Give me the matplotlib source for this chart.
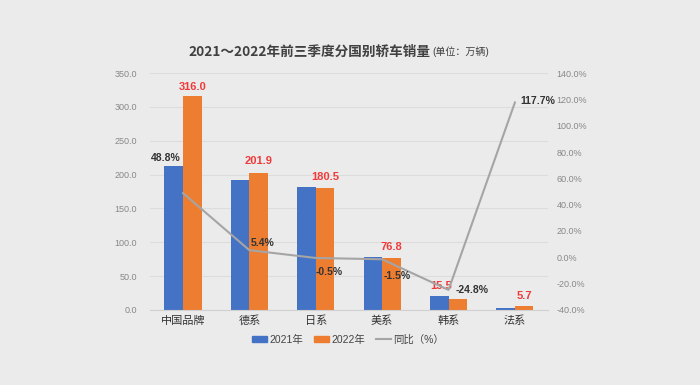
import numpy as np
import matplotlib.pyplot as plt
from matplotlib.lines import Line2D
from matplotlib.patches import Patch

plt.rcParams['font.family'] = ['Liberation Sans', 'Noto Sans CJK SC', 'DejaVu Sans']

# data
groups = ['中国品牌', '德系', '日系', '美系', '韩系', '法系']
sales_2021 = [212.4, 191.6, 181.4, 78.0, 20.6, 2.6]
sales_2022 = [316.0, 201.9, 180.5, 76.8, 15.5, 5.7]
yoy = [48.8, 5.4, -0.5, -1.5, -24.8, 117.7]

blue = '#4472C4'
orange = '#ED7D31'
grey_line = '#A5A5A5'
bg = '#ebebeb'

fig = plt.figure(figsize=(7, 3.85), dpi=100, facecolor=bg)
ax = fig.add_axes([0.214, 0.195, 0.569, 0.615])
ax.set_facecolor(bg)

x = np.arange(len(groups))
w = 0.28
ax.bar(x - w/2, sales_2021, w, color=blue, zorder=2)
ax.bar(x + w/2, sales_2022, w, color=orange, zorder=2)

ax.set_ylim(0, 350)
ax.set_yticks(np.arange(0, 351, 50))
ax.set_yticklabels([f'{v:.1f}' for v in np.arange(0, 351, 50)])
ax.set_xlim(-0.5, len(groups) - 0.5)
ax.set_xticks(x)
ax.set_xticklabels(groups, fontsize=8, color='#333333')
ax.grid(axis='y', color='#dcdcdc', linewidth=0.8, zorder=0)
for s in ax.spines.values():
    s.set_visible(False)
ax.spines['bottom'].set_visible(True)
ax.spines['bottom'].set_color('#d0d0d0')
ax.tick_params(axis='y', length=0, labelsize=6.5, labelcolor='#888888', pad=9)
ax.tick_params(axis='x', length=0, pad=4)

# red value labels on 2022 bars
red_off = [(0, 3), (0, 5), (0, 4), (0, 4), (-12, 6), (0, 4)]
for i, v in enumerate(sales_2022):
    ax.annotate(f'{v:.1f}', (x[i] + w/2, v), xytext=red_off[i], textcoords='offset points',
                ha='center', va='bottom', color='#f03a3a', fontsize=8, fontweight='bold')

ax2 = ax.twinx()
ax2.plot(x, yoy, color=grey_line, linewidth=1.5, zorder=3)
ax2.set_ylim(-40, 140)
ax2.set_yticks(np.arange(-40, 141, 20))
ax2.set_yticklabels([f'{v:.1f}%' for v in np.arange(-40, 141, 20)])
for s in ax2.spines.values():
    s.set_visible(False)
ax2.tick_params(axis='y', length=0, labelsize=6.5, labelcolor='#888888', pad=6)

pct_off = [(-2, 25), (1, 5), (0, -10), (1, -12), (5, 0), (4, 1)]
for i, v in enumerate(yoy):
    dx, dy = pct_off[i]
    ha = 'right' if i == 0 else 'left'
    ax2.annotate(f'{v:.1f}%', (x[i], v), xytext=(dx, dy), textcoords='offset points',
                 ha=ha, va='center', color='#333333', fontsize=7.5, fontweight='bold')

fig.text(0.615, 0.865, '2021～2022年前三季度分国别轿车销量', ha='right', va='center',
         fontsize=9.8, color='#404040', fontweight='bold',
         family=['Noto Sans CJK SC', 'DejaVu Sans'])
fig.text(0.617, 0.865, '(单位：万辆)', ha='left', va='center', fontsize=7.2, color='#404040')

handles = [Patch(color=blue), Patch(color=orange), Line2D([0], [0], color=grey_line, lw=1.5)]
fig.legend(handles, ['2021年', '2022年', '同比（%）'], loc='center', bbox_to_anchor=(0.497, 0.118),
           ncol=3, frameon=False, fontsize=7.5, handlelength=1.5, handleheight=0.5,
           columnspacing=1.0, handletextpad=0.2, labelcolor='#444444')

fig.savefig('out.png', dpi=100, facecolor=bg)
